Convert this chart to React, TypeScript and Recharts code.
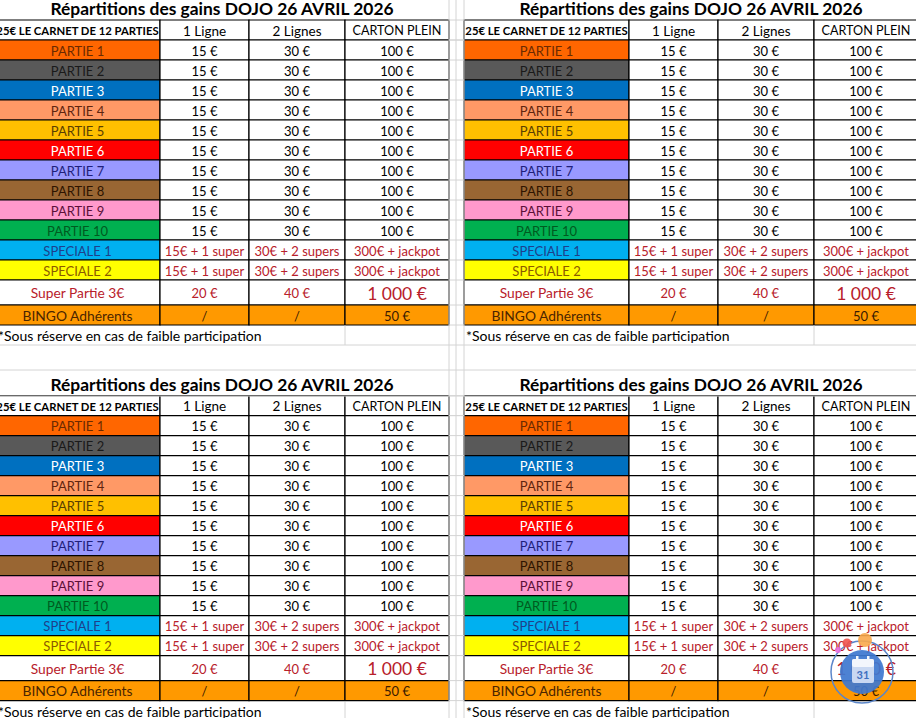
import { ComposedChart, XAxis, YAxis, ReferenceArea, ReferenceLine, ReferenceDot, Scatter } from 'recharts';

const FONT = 'Lato, sans-serif';
const BLACK = '#000';
const RED = '#b8202a';
const GRID = '#d4d4d4';

const title = 'Répartitions des gains DOJO 26 AVRIL 2026';
const note = '*Sous réserve en cas de faible participation';
const headers = ['25€ LE CARNET DE 12 PARTIES', '1 Ligne', '2 Lignes', 'CARTON PLEIN'];

const rowNames = ['PARTIE 1', 'PARTIE 2', 'PARTIE 3', 'PARTIE 4', 'PARTIE 5', 'PARTIE 6', 'PARTIE 7', 'PARTIE 8', 'PARTIE 9', 'PARTIE 10', 'SPECIALE 1', 'SPECIALE 2', 'Super Partie 3€', 'BINGO Adhérents'];
const oneLine = ['15 €', '15 €', '15 €', '15 €', '15 €', '15 €', '15 €', '15 €', '15 €', '15 €', '15€ + 1 super', '15€ + 1 super', '20 €', '/'];
const twoLines = ['30 €', '30 €', '30 €', '30 €', '30 €', '30 €', '30 €', '30 €', '30 €', '30 €', '30€ + 2 supers', '30€ + 2 supers', '40 €', '/'];
const fullCard = ['100 €', '100 €', '100 €', '100 €', '100 €', '100 €', '100 €', '100 €', '100 €', '100 €', '300€ + jackpot', '300€ + jackpot', '1 000 €', '50 €'];

const rowFills = ['#ff6600', '#595959', '#0070c0', '#ff9966', '#ffc000', '#ff0000', '#9999ff', '#996633', '#ff99cc', '#00b050', '#00b0f0', '#ffff00', '#fff', '#ff9900'];
const nameColors = ['#6b2a00', '#1a1a1a', '#fff', '#5e2510', '#5a3f00', '#fff', '#1f1f7a', '#2e1400', '#5c1038', '#005a20', '#1f3f8a', '#8a5a00', RED, '#4a2500'];
const valueColors = [BLACK, BLACK, BLACK, BLACK, BLACK, BLACK, BLACK, BLACK, BLACK, BLACK, RED, RED, RED, '#3a1a00'];

// where each copy of the sheet sits on the page
const tableLeft = [-5, 464];
const tableTop = [20, 395.6];
const columnWidths = [165, 89, 96, 104];
const rowHeights = [20, 20, 20, 20, 20, 20, 20, 20, 20, 20, 20, 20, 25, 20];

// sheet gridlines showing around the tables
const gridX = [449, 456, 464];
const gridY = [345, 370, 396];
const noteColumns = [345, 814];

type TextPoint = { x: number; y: number; text: string; color: string; size: number; weight: number; anchor: 'middle' | 'start' };

const texts: TextPoint[] = [];
const rects: { key: string; x1: number; x2: number; y1: number; y2: number; fill: string }[] = [];
const gutterTicks: number[] = [];

function addCell(key: string, x1: number, x2: number, y1: number, y2: number, text: string, fill: string, color: string, size: number, weight = 400) {
  rects.push({ key, x1, x2, y1, y2, fill });
  texts.push({ x: (x1 + x2) / 2, y: (y1 + y2) / 2 + 1, text, color, size, weight, anchor: 'middle' });
}

tableTop.forEach(top => {
  tableLeft.forEach(left => {
    const xs = columnWidths.reduce((acc, w) => [...acc, acc[acc.length - 1] + w], [left]);
    const ys = rowHeights.reduce((acc, h) => [...acc, acc[acc.length - 1] + h], [top + 20]);
    const id = `${left}-${top}`;
    texts.push({ x: (xs[0] + xs[4]) / 2, y: top - 11, text: title, color: BLACK, size: 17.4, weight: 700, anchor: 'middle' });
    texts.push({ x: left < 0 ? -2 : left + 2, y: ys[14] + 11, text: note, color: BLACK, size: 14, weight: 400, anchor: 'start' });
    headers.forEach((h, c) => {
      const headSize = c === 0 ? 11.3 : c === 3 ? 12.6 : 13.5;
      addCell(`head-${id}-${c}`, xs[c], xs[c + 1], top, top + 20, h, '#fff', BLACK, headSize, c === 0 ? 700 : 400);
    });
    rowNames.forEach((name, r) => {
      const bg = r === 13 ? rowFills[r] : '#fff';
      addCell(`name-${id}-${r}`, xs[0], xs[1], ys[r], ys[r + 1], name, rowFills[r], nameColors[r], r >= 12 ? 13.8 : 13);
      addCell(`one-${id}-${r}`, xs[1], xs[2], ys[r], ys[r + 1], oneLine[r], bg, valueColors[r], 13);
      addCell(`two-${id}-${r}`, xs[2], xs[3], ys[r], ys[r + 1], twoLines[r], bg, valueColors[r], 13);
      addCell(`full-${id}-${r}`, xs[3], xs[4], ys[r], ys[r + 1], fullCard[r], bg, valueColors[r], r === 12 ? 17.5 : 13);
    });
    if (left < 0) gutterTicks.push(top, top + 20, ...ys);
  });
});

function CellText(props: any) {
  const { cx, cy, payload } = props;
  return (
    <text x={cx} y={cy} dy="0.35em" textAnchor={payload.anchor} fill={payload.color} fontSize={payload.size} fontWeight={payload.weight} fontFamily={FONT}>
      {payload.text}
    </text>
  );
}

function CalendarIcon(props: any) {
  const { cx, cy } = props;
  return (
    <g>
      <circle cx={cx} cy={cy} r={22} fill="#3f78d0" fillOpacity={0.93} />
      <rect x={cx - 10} y={cy - 13} width={22} height={24} rx={2} fill="#c9d8f2" />
      <rect x={cx - 10} y={cy - 13} width={22} height={8} rx={2} fill="#f3f6fc" />
      <rect x={cx - 6} y={cy - 16} width={2.5} height={6} fill="#f3f6fc" />
      <rect x={cx + 5} y={cy - 16} width={2.5} height={6} fill="#f3f6fc" />
      <text x={cx + 1} y={cy + 3} dy="0.35em" textAnchor="middle" fill="#3f6fc0" fontSize={11} fontWeight={700} fontFamily={FONT}>
        31
      </text>
    </g>
  );
}

export default function App() {
  return (
    <div style={{ position: 'absolute', left: 0, top: 0, background: '#fff' }}>
      <ComposedChart width={916} height={718} margin={{ top: 0, right: 0, bottom: 0, left: 0 }}>
        <XAxis type="number" dataKey="x" domain={[0, 916]} allowDataOverflow hide />
        <YAxis type="number" dataKey="y" domain={[0, 718]} reversed allowDataOverflow hide />

        {gridX.map(x => (
          <ReferenceLine key={`gx-${x}`} x={x} stroke={GRID} ifOverflow="visible" />
        ))}
        {gridY.map(y => (
          <ReferenceLine key={`gy-${y}`} y={y} stroke={GRID} ifOverflow="visible" />
        ))}
        {noteColumns.flatMap(x => [
          <ReferenceLine key={`na-${x}`} segment={[{ x, y: 325 }, { x, y: 345 }]} stroke={GRID} ifOverflow="visible" />,
          <ReferenceLine key={`nb-${x}`} segment={[{ x, y: 701 }, { x, y: 718 }]} stroke={GRID} ifOverflow="visible" />,
        ])}
        {gutterTicks.map(y => (
          <ReferenceLine key={`tick-${y}`} segment={[{ x: 449, y }, { x: 464, y }]} stroke={GRID} ifOverflow="visible" />
        ))}

        {rects.map(r => (
          <ReferenceArea key={r.key} x1={r.x1} x2={r.x2} y1={r.y1} y2={r.y2} fill={r.fill} fillOpacity={1} stroke={BLACK} strokeWidth={1.2} ifOverflow="visible" />
        ))}

        <Scatter data={texts} shape={CellText} isAnimationActive={false} />

        {/* calendar widget floating over the lower right corner */}
        <ReferenceDot x={862} y={672} r={31} fill="none" stroke="#5b86c9" strokeWidth={1.5} ifOverflow="visible" />
        <ReferenceDot x={862} y={672} shape={CalendarIcon} ifOverflow="visible" />
        <ReferenceDot x={865} y={640} r={7} fill="#f9a94b" fillOpacity={0.9} stroke="none" ifOverflow="visible" />
        <ReferenceDot x={847} y={643} r={4.5} fill="#f0544f" fillOpacity={0.9} stroke="none" ifOverflow="visible" />
        <ReferenceDot x={838} y={650} r={3} fill="#e76be0" fillOpacity={0.9} stroke="none" ifOverflow="visible" />
      </ComposedChart>
    </div>
  );
}
